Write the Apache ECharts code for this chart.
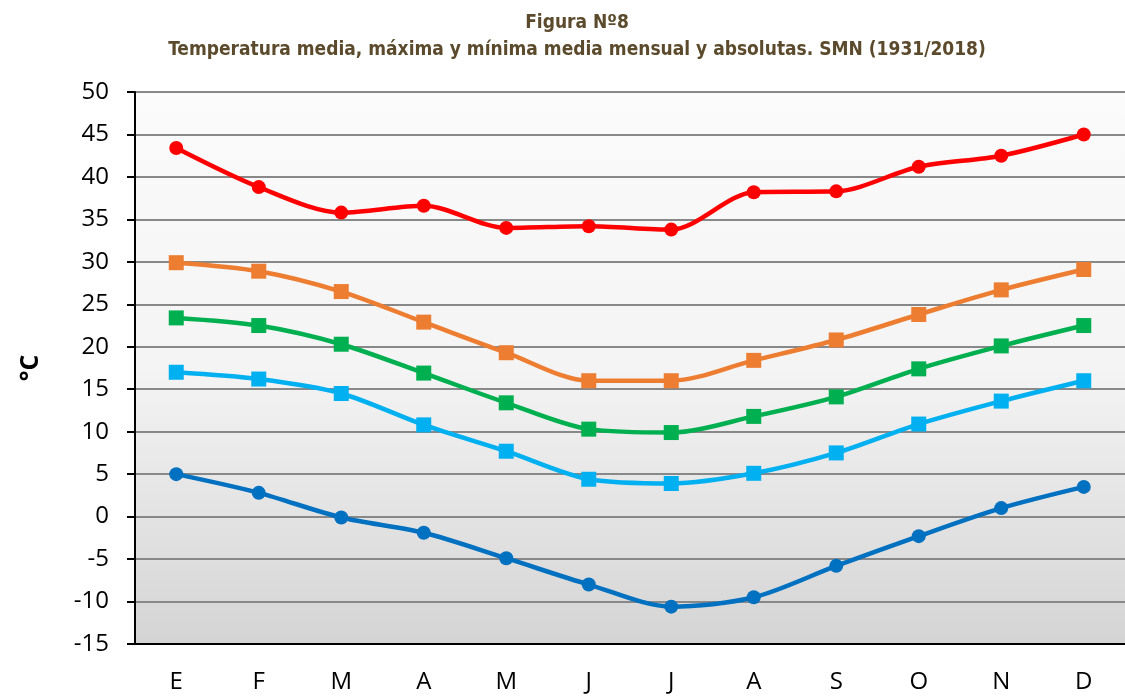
<!DOCTYPE html>
<html>
<head>
<meta charset="utf-8">
<script src="https://cdn.jsdelivr.net/npm/echarts@6/dist/echarts.min.js"></script>
<style>
  html, body { margin: 0; padding: 0; background: #fff; }
  #chart { width: 1125px; height: 697px; }
</style>
</head>
<body>
<div id="chart"></div>
<script>
const months = ['E', 'F', 'M', 'A', 'M', 'J', 'J', 'A', 'S', 'O', 'N', 'D'];

// absolute max, mean max, mean, mean min, absolute min
const absMax = [43.4, 38.8, 35.8, 36.6, 34.0, 34.2, 33.8, 38.2, 38.3, 41.2, 42.5, 45.0];
const meanMax = [29.9, 28.9, 26.5, 22.9, 19.3, 16.0, 16.0, 18.4, 20.8, 23.8, 26.7, 29.1];
const meanTemp = [23.4, 22.5, 20.3, 16.9, 13.4, 10.3, 9.9, 11.8, 14.1, 17.4, 20.1, 22.5];
const meanMin = [17.0, 16.2, 14.5, 10.8, 7.7, 4.4, 3.9, 5.1, 7.5, 10.9, 13.6, 16.0];
const absMin = [5.0, 2.8, -0.1, -1.9, -4.9, -8.0, -10.6, -9.5, -5.8, -2.3, 1.0, 3.5];

const chart = echarts.init(document.getElementById('chart'));

const makeSeries = (name, data, color, symbol, size) => ({
  name: name,
  type: 'line',
  data: data,
  smooth: 0.3,
  symbol: symbol,
  symbolSize: size,
  lineStyle: { color: color, width: 4.5 },
  itemStyle: { color: color }
});

chart.setOption({
  animation: false,
  title: {
    text: 'Figura Nº8\nTemperatura media, máxima y mínima media mensual y absolutas. SMN (1931/2018)',
    left: 572,
    top: 5,
    textAlign: 'center',
    textStyle: {
      fontFamily: '"DejaVu Sans Condensed", "DejaVu Sans", sans-serif',
      fontSize: 19,
      fontWeight: 'bold',
      color: '#5b4b2c',
      lineHeight: 27
    }
  },
  grid: {
    left: 135,
    right: -4,
    top: 92,
    bottom: 53,
    show: true,
    borderWidth: 0,
    backgroundColor: new echarts.graphic.LinearGradient(0, 0, 0, 1, [
      { offset: 0, color: '#fbfbfb' },
      { offset: 0.5, color: '#f4f4f4' },
      { offset: 1, color: '#d4d4d4' }
    ])
  },
  xAxis: {
    type: 'category',
    data: months,
    boundaryGap: true,
    axisLine: { onZero: false, lineStyle: { color: '#000', width: 2 } },
    axisTick: { show: false },
    axisLabel: {
      margin: 26,
      fontSize: 24,
      color: '#000',
      fontFamily: 'Open Sans'
    }
  },
  yAxis: {
    type: 'value',
    min: -15,
    max: 50,
    interval: 5,
    name: '°C',
    nameLocation: 'middle',
    nameGap: 92,
    nameRotate: 90,
    nameTextStyle: {
      fontSize: 25,
      fontWeight: 'bold',
      color: '#000',
      fontFamily: 'Open Sans'
    },
    axisLine: { show: true, lineStyle: { color: '#000', width: 2 } },
    axisTick: { show: true, length: 8, lineStyle: { color: '#000', width: 2 } },
    axisLabel: {
      margin: 26,
      fontSize: 24,
      color: '#000',
      fontFamily: 'Open Sans'
    },
    splitLine: { lineStyle: { color: '#888', width: 2 } }
  },
  series: [
    makeSeries('Máxima absoluta', absMax, '#ff0000', 'circle', 14),
    makeSeries('Máxima media', meanMax, '#ed7d31', 'rect', 15),
    makeSeries('Media', meanTemp, '#00b050', 'rect', 15),
    makeSeries('Mínima media', meanMin, '#00b0f0', 'rect', 15),
    makeSeries('Mínima absoluta', absMin, '#0070c0', 'circle', 14)
  ]
});
</script>
</body>
</html>
